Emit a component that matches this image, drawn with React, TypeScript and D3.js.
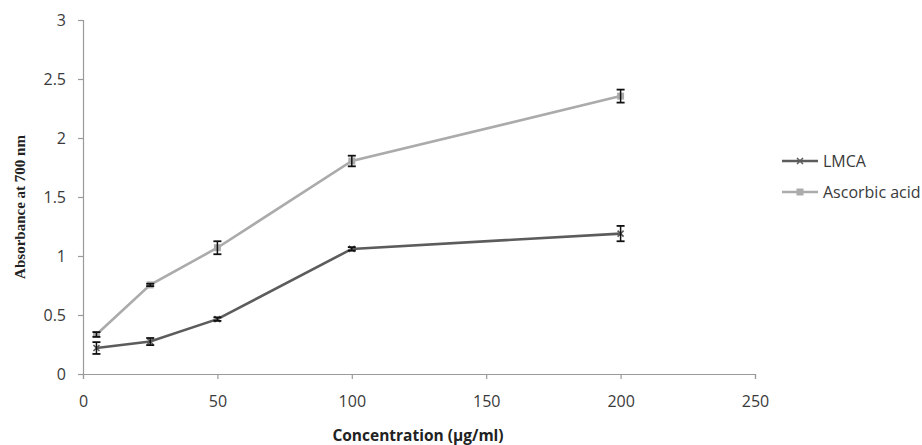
import React, { useEffect, useRef } from 'react';
import * as d3 from 'd3';

const concentrations = [5, 25, 50, 100, 200];
const lmcaValues = [0.22, 0.275, 0.465, 1.06, 1.19];
const lmcaErrors = [0.05, 0.03, 0.015, 0.015, 0.065];
const ascorbicValues = [0.335, 0.755, 1.07, 1.805, 2.355];
const ascorbicErrors = [0.02, 0.01, 0.055, 0.045, 0.055];
const xTicks = [0, 50, 100, 150, 200, 250];
const yTicks = [0, 0.5, 1, 1.5, 2, 2.5, 3];
const seriesNames = ['LMCA', 'Ascorbic acid'];

const App: React.FC = () => {
  const svgRef = useRef<SVGSVGElement>(null);

  useEffect(() => {
    if (!svgRef.current) return;
    const svg = d3.select(svgRef.current);
    svg.selectAll('*').remove();

    const width = 922;
    const height = 445;
    const margin = { left: 83, top: 20, right: 168, bottom: 71 };

    const x = d3.scaleLinear().domain([0, 250]).range([margin.left, width - margin.right + 1]);
    const y = d3.scaleLinear().domain([0, 3]).range([height - margin.bottom, margin.top]);

    svg.append('rect').attr('width', width).attr('height', height).attr('fill', '#fff');

    const axisColor = '#9a9a9a';
    const labelColor = '#3a3a3a';
    const tickFont = '"Open Sans", "Noto Sans", sans-serif';

    // y axis
    const yAxis = svg.append('g')
      .attr('transform', `translate(${margin.left},0)`)
      .call(d3.axisLeft(y).tickValues(yTicks).tickSize(5).tickPadding(12).tickFormat(d => String(d)));
    // x axis
    const xAxis = svg.append('g')
      .attr('transform', `translate(0,${y(0)})`)
      .call(d3.axisBottom(x).tickValues(xTicks).tickSize(5).tickPadding(17).tickFormat(d => String(d)));

    [yAxis, xAxis].forEach(a => {
      a.select('.domain').attr('stroke', axisColor).attr('stroke-width', 1.2);
      a.selectAll('.tick line').attr('stroke', axisColor).attr('stroke-width', 1.2);
      a.selectAll('.tick text')
        .attr('fill', labelColor)
        .style('font-family', tickFont)
        .style('font-size', '16px');
    });

    const series = [
      { name: seriesNames[0], values: lmcaValues, errors: lmcaErrors, color: '#5c5c5c', marker: 'x' },
      { name: seriesNames[1], values: ascorbicValues, errors: ascorbicErrors, color: '#ababab', marker: 'square' },
    ];

    const line = d3.line<number>()
      .x((_, i) => x(concentrations[i]))
      .y(d => y(d));

    series.forEach(s => {
      const g = svg.append('g');
      g.append('path')
        .attr('d', line(s.values)!)
        .attr('fill', 'none')
        .attr('stroke', s.color)
        .attr('stroke-width', 2.6);

      s.values.forEach((v, i) => {
        const cx = x(concentrations[i]);
        const cy = y(v);
        if (s.marker === 'square') {
          g.append('rect')
            .attr('x', cx - 3.5).attr('y', cy - 3.5)
            .attr('width', 7).attr('height', 7)
            .attr('fill', s.color);
        } else {
          g.append('path')
            .attr('d', `M${cx - 3},${cy - 3}L${cx + 3},${cy + 3}M${cx - 3},${cy + 3}L${cx + 3},${cy - 3}`)
            .attr('stroke', s.color).attr('stroke-width', 1.6);
        }
        // error bar
        const top = y(v + s.errors[i]);
        const bot = y(v - s.errors[i]);
        g.append('line')
          .attr('x1', cx).attr('x2', cx).attr('y1', top).attr('y2', bot)
          .attr('stroke', '#111').attr('stroke-width', 1.5);
        [top, bot].forEach(yy => {
          g.append('line')
            .attr('x1', cx - 4).attr('x2', cx + 4).attr('y1', yy).attr('y2', yy)
            .attr('stroke', '#111').attr('stroke-width', 1.8);
        });
      });
    });

    // legend
    series.forEach((s, i) => {
      const ly = 161 + i * 31;
      const lg = svg.append('g');
      lg.append('line')
        .attr('x1', 782).attr('x2', 818).attr('y1', ly).attr('y2', ly)
        .attr('stroke', s.color).attr('stroke-width', 2.6);
      if (s.marker === 'square') {
        lg.append('rect').attr('x', 796.5).attr('y', ly - 3.5).attr('width', 7).attr('height', 7).attr('fill', s.color);
      } else {
        lg.append('path')
          .attr('d', `M797,${ly - 3}L803,${ly + 3}M797,${ly + 3}L803,${ly - 3}`)
          .attr('stroke', s.color).attr('stroke-width', 1.6);
      }
      lg.append('text')
        .attr('x', 823).attr('y', ly)
        .attr('dy', '0.35em')
        .attr('fill', labelColor)
        .style('font-family', tickFont)
        .style('font-size', '16px')
        .text(s.name);
    });

    // axis titles
    svg.append('text')
      .attr('transform', `translate(20,${(y(0) + y(3)) / 2 + 10}) rotate(-90)`)
      .attr('text-anchor', 'middle')
      .attr('fill', '#222')
      .style('font-family', '"Liberation Serif", serif')
      .style('font-weight', 'bold')
      .style('font-size', '15px')
      .attr('dy', '0.35em')
      .text('Absorbance at 700 nm');

    svg.append('text')
      .attr('x', 418).attr('y', 441)
      .attr('text-anchor', 'middle')
      .attr('fill', '#222')
      .style('font-family', tickFont)
      .style('font-weight', 'bold')
      .style('font-size', '15.5px')
      .text('Concentration (µg/ml)');
  }, []);

  return (
    <svg
      ref={svgRef}
      width={922}
      height={445}
      style={{ position: 'absolute', left: 0, top: 0 }}
    />
  );
};

export default App;
